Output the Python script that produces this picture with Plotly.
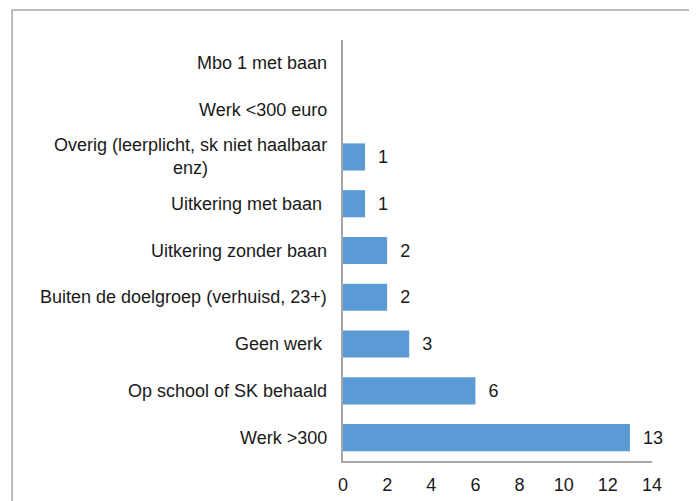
import plotly.graph_objects as go

# categories bottom -> top
categories = [
    "Werk >300",
    "Op school of SK behaald",
    "Geen werk ",
    "Buiten de doelgroep (verhuisd, 23+)",
    "Uitkering zonder baan",
    "Uitkering met baan ",
    "Overig (leerplicht, sk niet haalbaar<br>enz)",
    "Werk <300 euro",
    "Mbo 1 met baan",
]
values = [13, 6, 3, 2, 2, 1, 1, None, None]
x_ticks = [0, 2, 4, 6, 8, 10, 12, 14]

font = "Liberation Sans, Arial, sans-serif"
txt = "#1a1a1a"
fs = 18

fig = go.Figure()
fig.add_trace(go.Bar(
    x=values, y=categories, orientation="h", width=0.58,
    marker=dict(color="#5b9bd5", line=dict(width=0)),
    text=[("" if v is None else "  " + str(v)) for v in values],
    textposition="outside", cliponaxis=False,
    textfont=dict(family=font, size=fs, color=txt),
))

# category labels as annotations so the wrapped one is centred
for c in categories:
    fig.add_annotation(x=0, xref="paper", y=c, yref="y", text=c,
                       showarrow=False, xanchor="right", xshift=-14,
                       align="center",
                       font=dict(family=font, size=fs, color=txt))

# outer frame
fig.add_shape(type="rect", xref="paper", yref="paper",
              x0=-1.071, x1=1.123, y0=-0.2, y1=1.071,
              line=dict(color="#a6a6a6", width=1.5))

fig.update_layout(
    width=689, height=493,
    margin=dict(l=335, r=45, t=32, b=40),
    plot_bgcolor="white", paper_bgcolor="white",
    showlegend=False,
    bargap=0.42,
    font=dict(family=font, size=fs, color=txt),
    xaxis=dict(range=[0, 14], tickvals=x_ticks, showgrid=False,
               showline=True, linecolor="#a6a6a6", linewidth=1.5,
               ticks="outside", ticklen=7, tickcolor="rgba(0,0,0,0)",
               automargin=False,
               zeroline=False, tickfont=dict(size=fs, color=txt)),
    yaxis=dict(categoryorder="array", categoryarray=categories,
               showticklabels=False, showgrid=False, automargin=False,
               showline=True, linecolor="#a6a6a6", linewidth=1.5,
               ticks="", zeroline=False),
)

fig.write_html("out.html")
